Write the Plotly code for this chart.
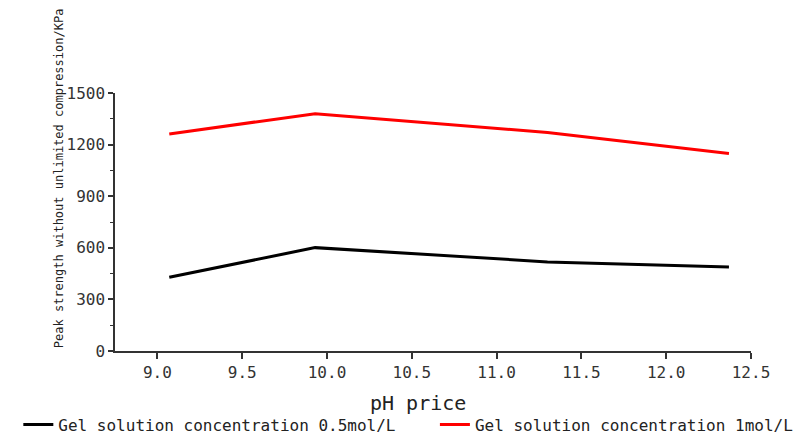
import plotly.graph_objects as go

ph = [9.07, 9.93, 11.30, 12.37]
strength_05 = [429, 601, 518, 488]
strength_1 = [1262, 1380, 1270, 1148]
series_names = ["Gel solution concentration 0.5mol/L", "Gel solution concentration 1mol/L"]
x_ticks = [9.0, 9.5, 10.0, 10.5, 11.0, 11.5, 12.0, 12.5]
x_tick_text = ["9.0", "9.5", "10.0", "10.5", "11.0", "11.5", "12.0", "12.5"]
y_ticks = [0, 300, 600, 900, 1200, 1500]

FONT = "'DejaVu Sans Mono', monospace"

fig = go.Figure()
fig.add_trace(go.Scatter(x=ph, y=strength_05, mode="lines", name=series_names[0],
                         line=dict(color="#000000", width=3), legend="legend"))
fig.add_trace(go.Scatter(x=ph, y=strength_1, mode="lines", name=series_names[1],
                         line=dict(color="#ff0000", width=3), legend="legend2"))

leg_common = dict(orientation="h", y=-0.285, yanchor="middle",
                  font=dict(family=FONT, size=16, color="#222222"),
                  bgcolor="rgba(0,0,0,0)")

fig.update_layout(
    width=803, height=435,
    margin=dict(l=115, r=52, t=93, b=84, autoexpand=False),
    paper_bgcolor="white", plot_bgcolor="white",
    font=dict(family=FONT, color="#222222", size=16),
    showlegend=True,
    legend=dict(x=-0.152, xanchor="left", **leg_common),
    legend2=dict(x=0.503, xanchor="left", **leg_common),
    xaxis=dict(range=[8.75, 12.5], tickvals=x_ticks, ticktext=x_tick_text, automargin=False,
               showgrid=False, zeroline=False, showline=True, linecolor="#333333", linewidth=1.5,
               ticks="outside", ticklen=6, tickwidth=1.5, tickcolor="#333333",
               tickfont=dict(family=FONT, size=16, color="#333333")),
    yaxis=dict(range=[0, 1500], tickvals=y_ticks, automargin=False,
               showgrid=False, zeroline=False, showline=True, linecolor="#333333", linewidth=1.5,
               ticks="outside", ticklen=5, tickwidth=1.5, tickcolor="#333333",
               tickfont=dict(family=FONT, size=16, color="#333333"),
               minor=dict(dtick=150, ticks="outside", ticklen=3, tickwidth=1, tickcolor="#333333")),
)

fig.add_annotation(text="Peak strength without unlimited compression/KPa",
                   xref="paper", yref="paper", x=-0.088, y=0.67,
                   xanchor="center", yanchor="middle", textangle=-90, showarrow=False,
                   font=dict(family=FONT, size=12, color="#222222"))
fig.add_annotation(text="pH price",
                   xref="paper", yref="paper", x=0.477, y=-0.20,
                   xanchor="center", yanchor="middle", showarrow=False,
                   font=dict(family=FONT, size=20, color="#222222"))

fig.write_html("out.html",
               config={"displayModeBar": False},
               post_script="document.body.style.margin='0';document.body.style.overflow='hidden';")
